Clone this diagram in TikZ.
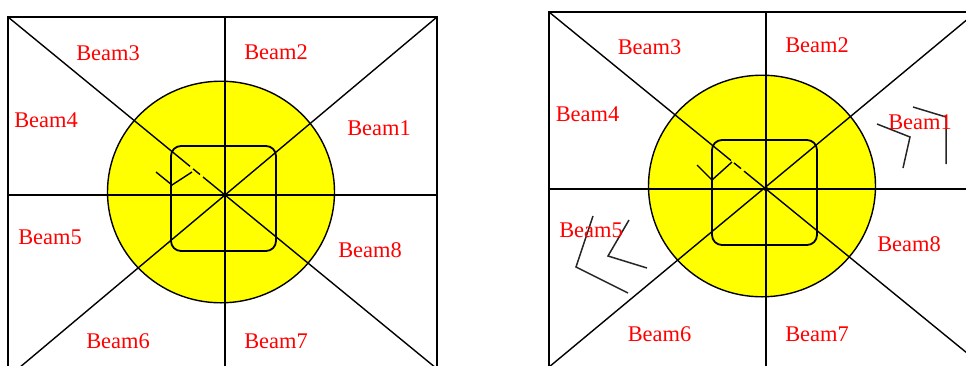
\documentclass[tikz,border=0pt]{standalone}
\usepackage{fontspec}
\setmainfont{Liberation Serif}
\definecolor{beamred}{RGB}{255,0,0}
\definecolor{diskyellow}{RGB}{255,255,0}
\begin{document}
\begin{tikzpicture}[x=1bp,y=-1bp,
  beam/.style={text=beamred,font=\fontsize{22.5}{25}\selectfont,inner sep=0pt},
  ln/.style={line width=1.8bp,black},
  diag/.style={line width=1.4bp,black},
  disk/.style={fill=diskyellow,draw=black,line width=1.4bp},
  scrib/.style={line width=1.5bp,black!85}]
\useasboundingbox (0,0) rectangle (966,365);
\clip (0,0) rectangle (966,365);
% ---------- left diagram ----------
\begin{scope}[shift={(225,195)}]
  \coordinate (LC) at (0,0);
  \coordinate (LTL) at (-217,-178);
  \coordinate (LTR) at (212,-178);
  \path[disk] (-4,-3) ellipse [x radius=113.5, y radius=110.8];
  \draw[ln] (-217,200) -- (LTL) -- (LTR) -- (212,200);
  \draw[ln] (-217,0) -- (212,0);
  \draw[ln] (0,-178) -- (0,200);
  \draw[diag] (LTL) -- (-35,-28.7);
  \draw[diag] (-32,-26.2) -- (-25,-20.5);
  \draw[diag] (-22,-18) -- (LC) -- (250,205);
  \draw[diag] (LTR) -- (-240,201.5);
  \draw[ln,rounded corners=10bp] (-54,-49) rectangle (51,56);
  \draw[diag] (-69,-23) -- (-53,-10) -- (-33,-23);
  \fill (LC) circle (2.2bp);
\end{scope}
\node[beam] (l3) at (108,53) {Beam3};
\node[beam] (l2) at (276,52) {Beam2};
\node[beam] (l4) at (46,120) {Beam4};
\node[beam] (l1) at (379,128) {Beam1};
\node[beam] (l5) at (50,237) {Beam5};
\node[beam] (l8) at (370,250) {Beam8};
\node[beam] (l6) at (118,341) {Beam6};
\node[beam] (l7) at (276,341) {Beam7};
% ---------- right diagram ----------
\begin{scope}[shift={(766,189)}]
  \coordinate (RC) at (0,0);
  \coordinate (RTL) at (-217,-177);
  \coordinate (RTR) at (230,-177);
  \path[disk] (-4,-3) ellipse [x radius=113.5, y radius=110.8];
  \draw[ln] (-217,200) -- (RTL) -- (RTR);
  \draw[ln] (-217,0) -- (230,0);
  \draw[ln] (0,-177) -- (0,200);
  \draw[diag] (RTL) -- (-35,-28.5);
  \draw[diag] (-32,-26.1) -- (-25,-20.4);
  \draw[diag] (-22,-17.9) -- (RC) -- (250,204);
  \draw[diag] (212,-178.5) -- (-235,193);
  \draw[ln,rounded corners=10bp] (-54,-49) rectangle (51,56);
  \draw[diag] (-69,-24) -- (-54,-9) -- (-34,-27);
  \fill (RC) circle (2.2bp);
\end{scope}
\draw[scrib] (877,124) -- (910,137) -- (903,168);
\draw[scrib] (913,107) -- (946,117) -- (946,164);
\draw[scrib] (593,216) -- (576,267) -- (628,293);
\draw[scrib] (629,220) -- (608,256) -- (647,268);
\node[beam] (r3) at (649.5,47) {Beam3};
\node[beam] (r2) at (817,45) {Beam2};
\node[beam] (r4) at (587.5,114) {Beam4};
\node[beam] (r1) at (920,122) {Beam1};
\node[beam] (r5) at (591,230) {Beam5};
\node[beam] (r8) at (909,244) {Beam8};
\node[beam] (r6) at (659.5,334) {Beam6};
\node[beam] (r7) at (817,334) {Beam7};
\end{tikzpicture}
\end{document}
